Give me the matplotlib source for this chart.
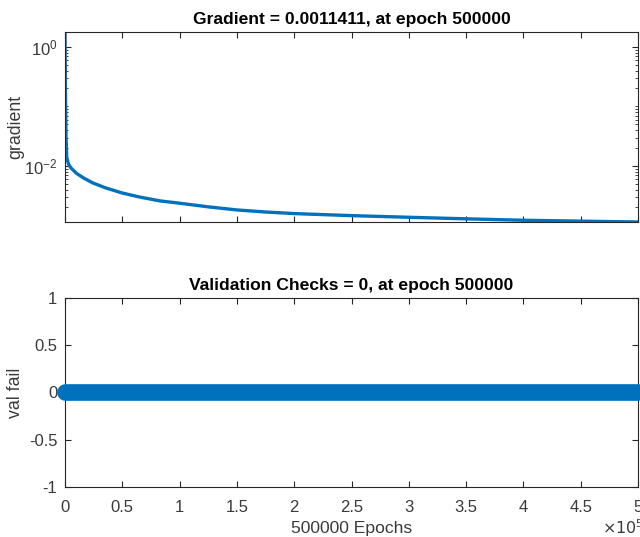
import matplotlib
matplotlib.use("Agg")
import matplotlib.pyplot as plt
from matplotlib.ticker import FixedLocator, LogLocator, NullFormatter

plt.rcParams['font.family'] = ['Liberation Sans', 'DejaVu Sans']
plt.rcParams['font.size'] = 12

# Training record (gradient vs epoch)
epochs = [0, 200, 500, 900, 1500, 3000, 5000, 10000, 16000, 24000, 35000,
          50000, 65000, 83000, 100000, 125000, 150000, 175000, 200000,
          250000, 300000, 350000, 400000, 450000, 500000]
gradient = [1.78, 0.5, 0.1, 0.03, 0.014, 0.0108, 0.0093, 0.0075, 0.0063,
            0.0052, 0.0043, 0.0035, 0.0030, 0.00258, 0.00236, 0.00205,
            0.00182, 0.00168, 0.00158, 0.00146, 0.00137, 0.00129, 0.00122,
            0.00118, 0.0011411]

# Validation checks stay at zero over the whole run
val_epochs = [0, 500000]
val_fail = [0, 0]

x_ticks = [0, 0.5e5, 1e5, 1.5e5, 2e5, 2.5e5, 3e5, 3.5e5, 4e5, 4.5e5, 5e5]
x_tick_labels = ['0', '0.5', '1', '1.5', '2', '2.5', '3', '3.5', '4', '4.5', '5']

LINE_COLOR = '#0072BD'
AX_COLOR = '#262626'
LABEL_COLOR = '#3a3a3a'

fig = plt.figure(figsize=(6.4, 5.37), dpi=100)
ax1 = fig.add_axes([0.1016, 0.5866, 0.8953, 0.3538])
ax2 = fig.add_axes([0.1016, 0.0931, 0.8953, 0.3520])


def style_axes(ax):
    for s in ax.spines.values():
        s.set_color(AX_COLOR)
        s.set_linewidth(0.8)
    ax.tick_params(which='both', direction='in', top=True, right=True,
                   colors=AX_COLOR, labelcolor=LABEL_COLOR, labelsize=12)
    ax.tick_params(axis='y', pad=5.5)
    ax.tick_params(axis='x', pad=9.5)
    ax.tick_params(which='major', length=4)
    ax.tick_params(which='minor', length=2)
    # fixed spot so both y labels line up like the original
    ax.yaxis.set_label_coords(-0.0716, 0.5)


# Gradient panel
ax1.semilogy(epochs, gradient, color=LINE_COLOR, linewidth=2.4)
ax1.set_xlim(0, 5e5)
ax1.set_ylim(0.0011411, 1.78)
ax1.xaxis.set_major_locator(FixedLocator(x_ticks))
ax1.set_xticklabels([])
ax1.yaxis.set_major_locator(FixedLocator([1e-2, 1e0]))
ax1.yaxis.set_minor_locator(LogLocator(base=10, subs=range(1, 10), numticks=20))
ax1.yaxis.set_minor_formatter(NullFormatter())
ax1.set_ylabel('gradient', fontsize=12.8, color=LABEL_COLOR)
ax1.set_title('Gradient = 0.0011411, at epoch 500000', fontsize=12.6,
              fontweight='bold', color='#000000', pad=5.5)
style_axes(ax1)

# Validation checks panel
ax2.plot(val_epochs, val_fail, color=LINE_COLOR, linewidth=12,
         solid_capstyle='round', clip_on=False, zorder=3)
ax2.set_xlim(0, 5e5)
ax2.set_ylim(-1, 1)
ax2.set_yticks([-1, -0.5, 0, 0.5, 1])
ax2.set_yticklabels(['-1', '-0.5', '0', '0.5', '1'])
ax2.set_xticks(x_ticks)
ax2.set_xticklabels(x_tick_labels)
ax2.set_ylabel('val fail', fontsize=12.8, color=LABEL_COLOR)
ax2.set_xlabel('500000 Epochs', fontsize=12.6, color=LABEL_COLOR, labelpad=4)
ax2.set_title('Validation Checks = 0, at epoch 500000', fontsize=12.6,
              fontweight='bold', color='#000000', pad=5.5)
style_axes(ax2)
ax2.text(1.01, -0.215, r'$\times10^5$', transform=ax2.transAxes,
         ha='right', va='center', fontsize=11.5, color=LABEL_COLOR)

fig.savefig('out.png', dpi=100)
